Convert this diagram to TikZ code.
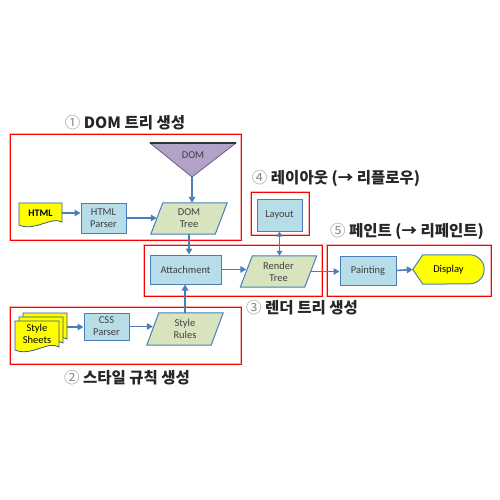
\documentclass[tikz,border=0pt]{standalone}
\usepackage{fontspec}
\setmainfont{Carlito}
\newfontfamily\kr{Noto Sans CJK KR}
\usetikzlibrary{arrows.meta}
\pgfdeclarelayer{background}
\pgfsetlayers{background,main}
\definecolor{boxfill}{HTML}{B7DDE8}
\definecolor{boxedge}{HTML}{4A7EBB}
\definecolor{parafill}{HTML}{D7E4BD}
\definecolor{arrblue}{HTML}{4A7EBB}
\definecolor{domfill}{HTML}{B3A2C7}
\definecolor{domedge}{HTML}{6E5A8A}
\definecolor{txt}{HTML}{404040}
\definecolor{docyellow}{HTML}{FFFF00}
\definecolor{redglow}{HTML}{FFB0B0}
\newcommand\drawpara[1]{%
  \filldraw[parashape] ([xshift=-6pt]#1.south west) -- ([xshift=6pt]#1.north west)
    -- ([xshift=6pt]#1.north east) -- ([xshift=-6pt]#1.south east) -- cycle;}
\tikzset{
  lbl/.style={inner sep=0pt, align=center, font=\fontsize{10.5}{12}\selectfont, text=txt},
  bluebox/.style={lbl, draw=boxedge, fill=boxfill, line width=1pt},
  paranode/.style={lbl, minimum width=64pt, minimum height=31pt},
  parashape/.style={draw=boxedge, fill=parafill, line width=1pt},
  docshape/.style={draw=boxedge!70!black, fill=docyellow, line width=0.8pt},
  arr/.style={draw=arrblue, line width=1.6pt, -{Triangle[length=6pt,width=6.5pt]}},
  darr/.style={draw=arrblue, line width=1.3pt, {Triangle[length=5pt,width=5.5pt]}-{Triangle[length=5pt,width=5.5pt]}},
  redbox/.style={draw=red, line width=0.9pt, preaction={draw=redglow, line width=2.8pt}},
  ttl/.style={inner sep=0pt, font=\kr\fontsize{15.5}{17}\selectfont\bfseries, text=black!85},
}
\newcommand\cnum[1]{{\mdseries\color{black!45}#1}}
\begin{document}
\begin{tikzpicture}[x=1pt, y=-1pt]
\useasboundingbox (0,0) rectangle (500,500);
\begin{pgfonlayer}{background}
\fill[white] (0,0) rectangle (500,500);
\end{pgfonlayer}

% red group boxes
\draw[redbox] (10,134) rectangle (241,240);
\draw[redbox] (10,307) rectangle (241,364);
\draw[redbox] (144,245) rectangle (322,296);
\draw[redbox] (251,192) rectangle (309,235);
\draw[redbox] (327,245) rectangle (491,296);

% titles
\node[ttl] (t1) at (125,123) {\cnum{①} DOM 트리 생성};
\node[ttl] (t2) at (127,378) {\cnum{②} 스타일 규칙 생성};
\node[ttl] (t3) at (302,308) {\cnum{③} 렌더 트리 생성};
\node[ttl] (t4) at (336,179) {\cnum{④} 레이아웃 (→ 리플로우)};
\node[ttl] (t5) at (407,232) {\cnum{⑤} 페인트 (→ 리페인트)};

% DOM triangle
\filldraw[draw=domedge, fill=domfill, line width=0.8pt] (150,143) -- (236,143) -- (192,177) -- cycle;
\draw[black!80, line width=1.6pt] (150,143) -- (236,143);
\coordinate (domapex) at (192,177);
\node[lbl] (domlbl) at (193,155) {DOM};

% HTML document
\begin{scope}[shift={(19,203)}]
\filldraw[docshape] (0,0) -- (43,0) -- (43,19) .. controls (33,13) and (15,29) .. (0,22) -- cycle;
\end{scope}
\node[lbl, text=black, minimum width=43pt, font=\fontsize{10}{12}\selectfont\bfseries] (html) at (40.5,213) {HTML};

% HTML parser, DOM tree
\node[bluebox, minimum width=45pt, minimum height=30pt] (hparser) at (103.5,218) {HTML\\Parser};
\node[paranode] (domtree) at (189,218.5) {DOM\\Tree};

% style sheets (stack)
\foreach \dx/\dy in {8/-8,4/-4,0/0}{
\begin{scope}[shift={(15+\dx,321+\dy)}]
\filldraw[docshape] (0,0) -- (44,0) -- (44,26) .. controls (34,19) and (16,36) .. (0,29) -- cycle;
\end{scope}}
\node[lbl, text=black] (sheets) at (37,334) {Style\\Sheets};
\coordinate (sheetsedge) at (67,327);

\node[bluebox, minimum width=45pt, minimum height=27pt] (cssp) at (106.5,326.5) {CSS\\Parser};
\node[paranode, minimum height=32pt] (rules) at (185,329) {Style\\Rules};

% render group
\node[bluebox, minimum width=71pt, minimum height=29pt] (attach) at (185.5,269.5) {Attachment};
\node[paranode] (render) at (278.5,271.5) {Render\\Tree};
\node[bluebox, minimum width=45pt, minimum height=32pt] (layout) at (279.5,215) {Layout};

% paint group
\node[bluebox, minimum width=56pt, minimum height=29pt] (paint) at (368,270.5) {Painting};
\node[lbl, text=black, minimum width=71pt, minimum height=29pt] (display) at (448.5,269.5) {Display};

\begin{pgfonlayer}{background}
\drawpara{domtree}
\drawpara{rules}
\drawpara{render}
\filldraw[draw=boxedge, fill=docyellow, line width=1pt]
  (display.west) -- ([xshift=10pt]display.north west) -- ([xshift=-14.5pt]display.north east)
  arc[start angle=90, end angle=-90, radius=14.5pt]
  -- ([xshift=10pt]display.south west) -- cycle;
\end{pgfonlayer}

% connectors
\draw[arr] (html.east) -- (html.east -| hparser.west);
\draw[arr] (hparser.east) -- (hparser.east -| domtree.west);
\draw[arr] (domapex) -- (domapex |- domtree.north);
\draw[arr] (domtree.south) -- (domtree.south |- attach.north);
\draw[arr] (sheetsedge) -- (sheetsedge -| cssp.west);
\draw[arr] (cssp.east) -- (cssp.east -| rules.west);
\draw[arr] (rules.north) -- (rules.north |- attach.south);
\draw[arr] (attach.east) -- (attach.east -| render.west);
\draw[darr] (layout.south) -- (layout.south |- render.north);
\draw[arr] (render.east) -- (render.east -| paint.west);
\draw[arr] (paint.east) -- (display.west);
\end{tikzpicture}
\end{document}
